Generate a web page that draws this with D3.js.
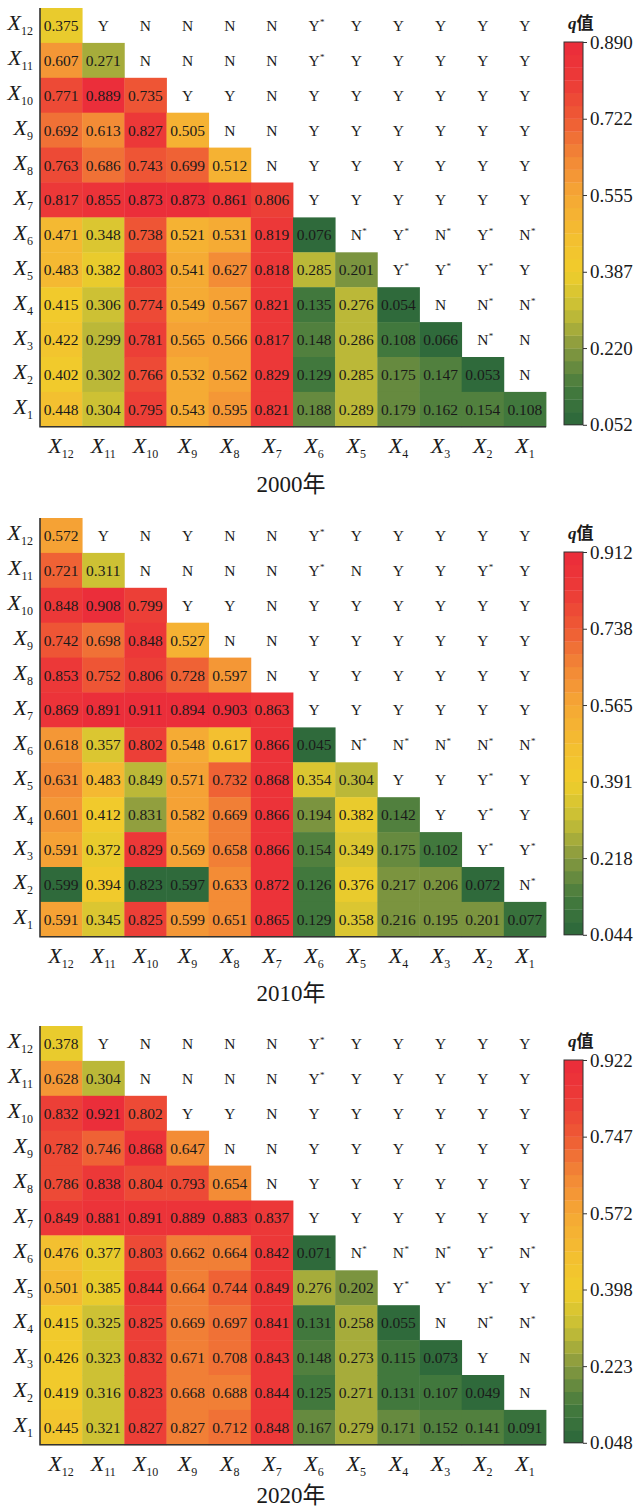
<!DOCTYPE html>
<html>
<head>
<meta charset="utf-8">
<script src="https://cdn.jsdelivr.net/npm/d3@7"></script>
<style>
body { margin: 0; background: #fff; }
svg { display: block; }
text { font-family: "Liberation Serif", "Times New Roman", "Noto Sans CJK SC", serif; fill: #1a1a1a; }
</style>
</head>
<body>
<div id="chart"></div>
<script>
// factors, left->right and top->bottom
const factors = ["X12","X11","X10","X9","X8","X7","X6","X5","X4","X3","X2","X1"];
const years = ["2000年","2010年","2020年"];

// q values, lower triangle, one row per factor (X12 .. X1), columns from X12 up to the diagonal
const q2000 = [
  [0.375],
  [0.607,0.271],
  [0.771,0.889,0.735],
  [0.692,0.613,0.827,0.505],
  [0.763,0.686,0.743,0.699,0.512],
  [0.817,0.855,0.873,0.873,0.861,0.806],
  [0.471,0.348,0.738,0.521,0.531,0.819,0.076],
  [0.483,0.382,0.803,0.541,0.627,0.818,0.285,0.201],
  [0.415,0.306,0.774,0.549,0.567,0.821,0.135,0.276,0.054],
  [0.422,0.299,0.781,0.565,0.566,0.817,0.148,0.286,0.108,0.066],
  [0.402,0.302,0.766,0.532,0.562,0.829,0.129,0.285,0.175,0.147,0.053],
  [0.448,0.304,0.795,0.543,0.595,0.821,0.188,0.289,0.179,0.162,0.154,0.108]
];
const q2010 = [
  [0.572],
  [0.721,0.311],
  [0.848,0.908,0.799],
  [0.742,0.698,0.848,0.527],
  [0.853,0.752,0.806,0.728,0.597],
  [0.869,0.891,0.911,0.894,0.903,0.863],
  [0.618,0.357,0.802,0.548,0.617,0.866,0.045],
  [0.631,0.483,0.849,0.571,0.732,0.868,0.354,0.304],
  [0.601,0.412,0.831,0.582,0.669,0.866,0.194,0.382,0.142],
  [0.591,0.372,0.829,0.569,0.658,0.866,0.154,0.349,0.175,0.102],
  [0.599,0.394,0.823,0.597,0.633,0.872,0.126,0.376,0.217,0.206,0.072],
  [0.591,0.345,0.825,0.599,0.651,0.865,0.129,0.358,0.216,0.195,0.201,0.077]
];
const q2020 = [
  [0.378],
  [0.628,0.304],
  [0.832,0.921,0.802],
  [0.782,0.746,0.868,0.647],
  [0.786,0.838,0.804,0.793,0.654],
  [0.849,0.881,0.891,0.889,0.883,0.837],
  [0.476,0.377,0.803,0.662,0.664,0.842,0.071],
  [0.501,0.385,0.844,0.664,0.744,0.849,0.276,0.202],
  [0.415,0.325,0.825,0.669,0.697,0.841,0.131,0.258,0.055],
  [0.426,0.323,0.832,0.671,0.708,0.843,0.148,0.273,0.115,0.073],
  [0.419,0.316,0.823,0.668,0.688,0.844,0.125,0.271,0.131,0.107,0.049],
  [0.445,0.321,0.827,0.827,0.712,0.848,0.167,0.279,0.171,0.152,0.141,0.091]
];

// upper triangle marks, one row per factor, columns after the diagonal
const marks2000 = [
  "Y N N N N Y* Y Y Y Y Y",
  "N N N N Y* Y Y Y Y Y",
  "Y Y N Y Y Y Y Y Y",
  "N N Y Y Y Y Y Y",
  "N Y Y Y Y Y Y",
  "Y Y Y Y Y Y",
  "N* Y* N* Y* N*",
  "Y* Y* Y* Y",
  "N N* N*",
  "N* N",
  "N"
];
const marks2010 = [
  "Y N Y N N Y* Y Y Y Y Y",
  "N N N N Y* N Y Y Y* Y",
  "Y Y N Y Y Y Y Y Y",
  "N N Y Y Y Y Y Y",
  "N Y Y Y Y Y Y",
  "Y Y Y Y Y Y",
  "N* N* N* N* N*",
  "Y Y Y* Y",
  "Y Y* Y",
  "Y* Y*",
  "N*"
];
const marks2020 = [
  "Y N N N N Y* Y Y Y Y Y",
  "N N N N Y* Y Y Y Y Y",
  "Y Y N Y Y Y Y Y Y",
  "N N Y Y Y Y Y Y",
  "N Y Y Y Y Y Y",
  "Y Y Y Y Y Y",
  "N* N* N* Y* N*",
  "Y* Y* Y* Y",
  "N N* N*",
  "Y N",
  "N"
];

// cells whose printed colour does not follow their printed value: [row, column, value the colour shows]
const colourFix2000 = [];
const colourFix2010 = [["X5","X10",0.30],["X4","X10",0.22],["X2","X12",0.06],["X2","X10",0.06],["X2","X9",0.06],["X6","X8",0.47]];
const colourFix2020 = [["X1","X9",0.667]];

// colour bar ticks
const ticks2000 = [0.052,0.220,0.387,0.555,0.722,0.890];
const ticks2010 = [0.044,0.218,0.391,0.565,0.738,0.912];
const ticks2020 = [0.048,0.223,0.398,0.572,0.747,0.922];

// palette
const rampStops = [0,0.1,0.2,0.3,0.4,0.5,0.6,0.7,0.8,0.9,1];
const rampColours = ["#2a663a","#467b3e","#86993f","#c6be36","#f0cd2b","#f4bd31","#f5a735","#f28736","#ee5a35","#ec3a37","#eb2b3a"];
const nSteps = 30;

const W = 638, H = 1509;
const left = 40, right = 546, rowH = 34.9;
const panels = [
  {year: years[0], q: q2000, marks: marks2000, fix: colourFix2000, ticks: ticks2000, top: 8, titleGap: 65},
  {year: years[1], q: q2010, marks: marks2010, fix: colourFix2010, ticks: ticks2010, top: 518, titleGap: 64},
  {year: years[2], q: q2020, marks: marks2020, fix: colourFix2020, ticks: ticks2020, top: 1026, titleGap: 58}
];

const svg = d3.select("#chart").append("svg").attr("width", W).attr("height", H);
const ramp = d3.scaleLinear().domain(rampStops).range(rampColours).interpolate(d3.interpolateRgb);
const x = d3.scaleBand().domain(factors).range([left, right]);

function factorLabel(t, f, big, small) {
  t.append("tspan").attr("font-style","italic").attr("font-size", big).text("X");
  t.append("tspan").attr("font-size", small).attr("dy", 5).text(f.slice(1));
}

panels.forEach(p => {
  const bottom = p.top + rowH * factors.length;
  const y = d3.scaleBand().domain(factors).range([p.top, bottom]);
  const lo = p.ticks[0], hi = p.ticks[p.ticks.length - 1];
  const colour = d3.scaleQuantize().domain([lo, hi])
    .range(d3.range(nSteps).map(k => ramp((k + 0.5) / nSteps)));
  const fixes = new Map(p.fix.map(d => [d[0] + "|" + d[1], d[2]]));

  const g = svg.append("g");

  const cells = [];
  p.q.forEach((row, i) => row.forEach((v, j) => {
    const key = factors[i] + "|" + factors[j];
    cells.push({r: factors[i], c: factors[j], v: v, cv: fixes.has(key) ? fixes.get(key) : v});
  }));

  g.selectAll("rect.cell").data(cells).join("rect")
    .attr("class","cell")
    .attr("x", d => x(d.c)).attr("y", d => y(d.r))
    .attr("width", x.bandwidth() + 0.4).attr("height", y.bandwidth() + 0.4)
    .attr("fill", d => colour(d.cv));

  g.selectAll("text.val").data(cells).join("text")
    .attr("class","val")
    .attr("x", d => x(d.c) + x.bandwidth() / 2)
    .attr("y", d => y(d.r) + y.bandwidth() / 2 + 5.5)
    .attr("text-anchor","middle").attr("font-size", 15.5)
    .text(d => d.v.toFixed(3));

  const marks = [];
  p.marks.forEach((s, i) => s.split(" ").forEach((m, k) => {
    marks.push({r: factors[i], c: factors[i + 1 + k], m: m});
  }));
  const mg = g.selectAll("g.mark").data(marks).join("g").attr("class","mark")
    .attr("transform", d => `translate(${x(d.c) + x.bandwidth() / 2},${y(d.r) + y.bandwidth() / 2 + 5.5})`);
  mg.append("text").attr("text-anchor","middle").attr("font-size", 15.5).text(d => d.m[0]);
  mg.filter(d => d.m.length > 1).append("text")
    .attr("x", 6).attr("y", -6).attr("font-size", 9).text("*");

  // axis lines
  g.append("path")
    .attr("d", `M${left},${p.top}V${bottom}H${right}`)
    .attr("fill","none").attr("stroke","#333").attr("stroke-width",1.6);

  // row labels
  g.selectAll("text.ylab").data(factors).join("text")
    .attr("class","ylab")
    .attr("x", 33).attr("y", d => y(d) + y.bandwidth() / 2 + 5)
    .attr("text-anchor","end")
    .each(function(d) { factorLabel(d3.select(this), d, 22, 12); });

  // column labels
  g.selectAll("text.xlab").data(factors).join("text")
    .attr("class","xlab")
    .attr("x", d => x(d) + x.bandwidth() / 2).attr("y", bottom + 26)
    .attr("text-anchor","middle")
    .each(function(d) { factorLabel(d3.select(this), d, 22, 12); });

  g.append("text")
    .attr("x", (left + right) / 2 - 2).attr("y", bottom + p.titleGap)
    .attr("text-anchor","middle").attr("font-size", 23)
    .text(p.year);

  // colour bar
  const barX = 564, barW = 19, barTop = p.top + 34, barBot = bottom - 2;
  const ls = d3.scaleLinear().domain([lo, hi]).range([barBot, barTop]);
  const step = (hi - lo) / nSteps;
  const lg = g.append("g");
  lg.selectAll("rect").data(d3.range(nSteps)).join("rect")
    .attr("x", barX).attr("width", barW)
    .attr("y", k => ls(lo + (k + 1) * step))
    .attr("height", k => ls(lo + k * step) - ls(lo + (k + 1) * step) + 0.3)
    .attr("fill", k => ramp((k + 0.5) / nSteps));
  lg.append("rect").attr("x", barX).attr("y", barTop).attr("width", barW).attr("height", barBot - barTop)
    .attr("fill","none").attr("stroke","#333").attr("stroke-width",1);
  const ax = lg.append("g").attr("transform", `translate(${barX + barW},0)`)
    .call(d3.axisRight(ls).tickValues(p.ticks).tickSize(4).tickPadding(3).tickFormat(d3.format(".3f")));
  ax.select(".domain").remove();
  ax.selectAll("line").attr("stroke","#333");
  ax.selectAll("text").attr("font-size", 19).attr("fill","#1a1a1a")
    .style("font-family", '"Liberation Serif", "Times New Roman", serif');

  const qt = lg.append("text").attr("x", barX + 4).attr("y", barTop - 13).attr("font-size", 17).attr("font-weight","bold");
  qt.append("tspan").attr("font-style","italic").text("q");
  qt.append("tspan").text("值");
});
</script>
</body>
</html>
